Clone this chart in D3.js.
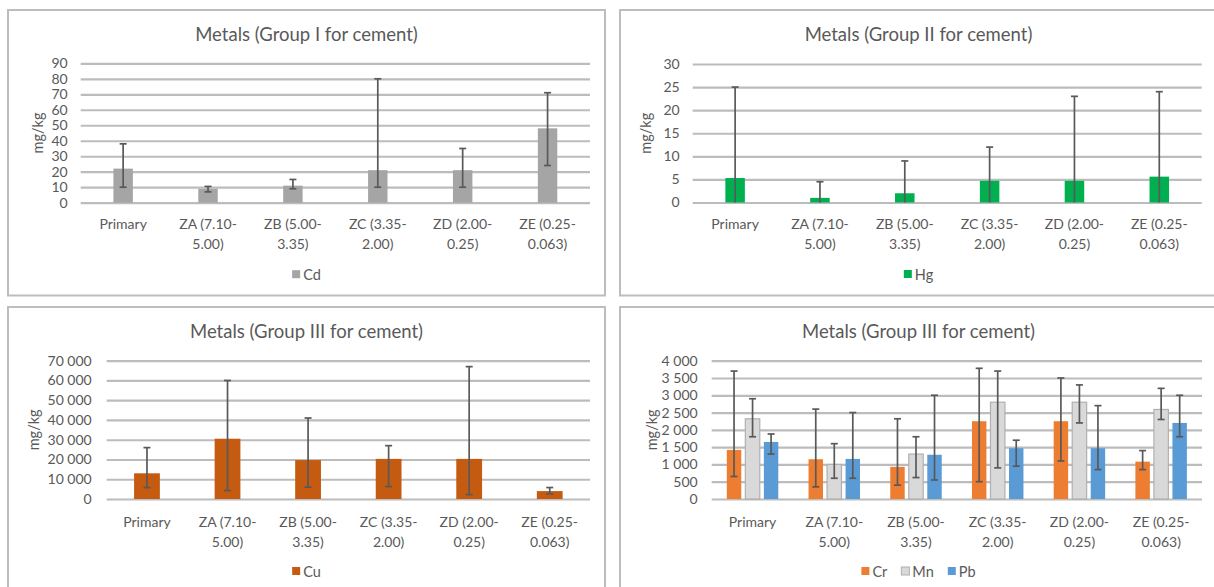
<!DOCTYPE html>
<html>
<head>
<meta charset="utf-8">
<script src="https://cdn.jsdelivr.net/npm/d3@7"></script>
<style>
  html, body { margin: 0; padding: 0; background: #fff; }
  svg { display: block; font-family: Lato, "Open Sans", sans-serif; }
</style>
</head>
<body>
<svg id="chart" width="1214" height="587"></svg>
<script>
// Size fractions (mm) shared by every panel
const categories = ["Primary", "ZA (7.10-5.00)", "ZB (5.00-3.35)", "ZC (3.35-2.00)", "ZD (2.00-0.25)", "ZE (0.25-0.063)"];

// Group I: cadmium (mean, lower and upper error limits)
const cdMean = [22, 9, 11, 21, 21, 48];
const cdLow  = [10, 7, 9, 10, 10, 24];
const cdHigh = [38, 10.5, 15, 80, 35, 71];
const cdTicks = [0, 10, 20, 30, 40, 50, 60, 70, 80, 90];

// Group II: mercury
const hgMean = [5.3, 1, 2, 4.7, 4.7, 5.6];
const hgLow  = [0, 0, 0, 0, 0, 0];
const hgHigh = [25, 4.5, 9, 12, 23, 24];
const hgTicks = [0, 5, 10, 15, 20, 25, 30];

// Group III: copper
const cuMean = [13000, 30500, 19700, 20300, 20300, 4000];
const cuLow  = [5800, 4300, 6000, 6300, 2200, 2600];
const cuHigh = [26000, 60000, 41000, 27000, 67000, 5800];
const cuTicks = [0, 10000, 20000, 30000, 40000, 50000, 60000, 70000];

// Group III: chromium, manganese, lead
const crMean = [1420, 1150, 930, 2250, 2250, 1080];
const crLow  = [650, 350, 400, 500, 1100, 850];
const crHigh = [3700, 2600, 2320, 3780, 3500, 1400];
const mnMean = [2320, 1000, 1300, 2800, 2800, 2590];
const mnLow  = [1800, 600, 620, 900, 2200, 2300];
const mnHigh = [2900, 1600, 1800, 3700, 3300, 3200];
const pbMean = [1650, 1160, 1280, 1470, 1470, 2200];
const pbLow  = [1300, 600, 550, 950, 850, 1800];
const pbHigh = [1880, 2500, 3000, 1700, 2700, 3000];
const g3Ticks = [0, 500, 1000, 1500, 2000, 2500, 3000, 3500, 4000];

const TEXT = "#595959";
const GRID = "#bcbcbc";
const ERR = "#595959";

const spaced = d3.formatLocale({ decimal: ".", thousands: "\u00a0", grouping: [3], currency: ["", ""] }).format(",");

const svg = d3.select("#chart");

function splitLabel(s) {
  const i = s.indexOf("-");
  return i < 0 ? [s] : [s.slice(0, i + 1), s.slice(i + 1)];
}

function drawPanel(cfg) {
  const g = svg.append("g");
  // frame
  g.append("rect")
    .attr("x", cfg.box[0]).attr("y", cfg.box[1])
    .attr("width", cfg.box[2]).attr("height", cfg.box[3])
    .attr("fill", "#fff").attr("stroke", "#bdbdbd").attr("stroke-width", 2);

  const cx = cfg.box[0] + cfg.box[2] / 2;
  g.append("text")
    .attr("x", cx).attr("y", cfg.box[1] + 23.5)
    .attr("text-anchor", "middle").attr("dominant-baseline", "central")
    .attr("fill", TEXT).style("font-size", "18.5px")
    .text(cfg.title);

  const [L, R, T, B] = cfg.plot;
  const x = d3.scaleBand().domain(categories).range([L, R]).padding(0);
  const y = d3.scaleLinear().domain([0, cfg.max]).range([B, T]);

  // gridlines + value labels
  const yAxis = g.append("g").attr("transform", `translate(${L},0)`)
    .call(d3.axisLeft(y).tickValues(cfg.ticks).tickFormat(cfg.format || spaced)
      .tickSize(-(R - L)).tickPadding(cfg.tickPad));
  yAxis.select(".domain").remove();
  yAxis.selectAll(".tick line").attr("stroke", GRID).attr("stroke-width", 2.2);
  yAxis.selectAll(".tick text").attr("fill", TEXT).style("font-size", "14px")
    .style("font-family", "Lato, 'Open Sans', sans-serif");

  // axis title
  g.append("text")
    .attr("transform", `translate(${cfg.yTitleX},${(T + B) / 2}) rotate(-90)`)
    .attr("text-anchor", "middle").attr("dominant-baseline", "central")
    .attr("fill", TEXT).style("font-size", "14.5px")
    .text("mg/kg");

  // category labels
  const cat = g.append("g");
  categories.forEach(c => {
    const lines = splitLabel(c);
    const t = cat.append("text")
      .attr("x", x(c) + x.bandwidth() / 2)
      .attr("y", B + cfg.labelOffset)
      .attr("text-anchor", "middle").attr("dominant-baseline", "central")
      .attr("fill", TEXT).style("font-size", "14px");
    lines.forEach((ln, i) => {
      t.append("tspan").attr("x", x(c) + x.bandwidth() / 2)
        .attr("dy", i === 0 ? 0 : 20).text(ln);
    });
  });

  // bars, grouped within each category
  const names = cfg.series.map(s => s.name);
  const groupW = x.bandwidth() * cfg.groupFrac;
  const inner = d3.scaleBand().domain(names).range([0, groupW])
    .paddingInner(cfg.series.length > 1 ? 0.22 : 0);

  cfg.series.forEach(s => {
    const sg = g.append("g");
    categories.forEach((c, i) => {
      const x0 = x(c) + (x.bandwidth() - groupW) / 2 + inner(s.name);
      const w = inner.bandwidth();
      sg.append("rect")
        .attr("x", x0).attr("y", y(s.mean[i]))
        .attr("width", w).attr("height", y(0) - y(s.mean[i]))
        .attr("fill", s.color)
        .attr("stroke", s.stroke || "none").attr("stroke-width", s.stroke ? 1.2 : 0);
      const xc = x0 + w / 2;
      sg.append("line")
        .attr("x1", xc).attr("x2", xc)
        .attr("y1", y(s.low[i])).attr("y2", y(s.high[i]))
        .attr("stroke", ERR).attr("stroke-width", 1.7);
      [s.high[i], s.low[i]].forEach(v => {
        if (v <= 0) return;
        sg.append("line")
          .attr("x1", xc - 3.5).attr("x2", xc + 3.5)
          .attr("y1", y(v)).attr("y2", y(v))
          .attr("stroke", ERR).attr("stroke-width", 1.7);
      });
    });
  });

  // legend, centred under the frame
  const leg = g.append("g");
  let lx = 0;
  cfg.series.forEach(s => {
    const item = leg.append("g").attr("transform", `translate(${lx},0)`);
    item.append("rect").attr("x", 0).attr("y", -4)
      .attr("width", 8).attr("height", 8).attr("fill", s.color)
      .attr("stroke", s.stroke || "none").attr("stroke-width", s.stroke ? 1 : 0);
    const t = item.append("text").attr("x", 11).attr("y", 0)
      .attr("dominant-baseline", "central").attr("fill", TEXT)
      .style("font-size", "14.5px").text(s.name);
    lx += 11 + t.node().getComputedTextLength() + 14;
  });
  const legW = lx - 14;
  leg.attr("transform", `translate(${cx - legW / 2},${B + cfg.legendOffset})`);
}

drawPanel({
  box: [8, 10, 597, 285.5], title: "Metals (Group I for cement)",
  plot: [80.7, 590, 63.3, 202.7], max: 90, ticks: cdTicks, tickPad: 13,
  yTitleX: 37, labelOffset: 20.5, legendOffset: 71.5, groupFrac: 0.229,
  series: [{ name: "Cd", color: "#a5a5a5", mean: cdMean, low: cdLow, high: cdHigh }]
});

drawPanel({
  box: [620, 10, 597, 285.5], title: "Metals (Group II for cement)",
  plot: [692.7, 1201.7, 64, 202.5], max: 30, ticks: hgTicks, tickPad: 13,
  yTitleX: 645, labelOffset: 20.5, legendOffset: 71.5, groupFrac: 0.23,
  series: [{ name: "Hg", color: "#00b050", mean: hgMean, low: hgLow, high: hgHigh }]
});

drawPanel({
  box: [8, 307, 597, 300], title: "Metals (Group III for cement)",
  plot: [106.7, 590, 360.7, 499], max: 70000, ticks: cuTicks, tickPad: 15,
  yTitleX: 33, labelOffset: 21.5, legendOffset: 72, groupFrac: 0.32,
  series: [{ name: "Cu", color: "#c55a11", mean: cuMean, low: cuLow, high: cuHigh }]
});

drawPanel({
  box: [620, 307, 597, 300], title: "Metals (Group III for cement)",
  plot: [711.7, 1202, 360.7, 499], max: 4000, ticks: g3Ticks, tickPad: 14,
  yTitleX: 651, labelOffset: 21.5, legendOffset: 72, groupFrac: 0.63,
  series: [
    { name: "Cr", color: "#ed7d31", mean: crMean, low: crLow, high: crHigh },
    { name: "Mn", color: "#d9d9d9", stroke: "#b0b0b0", mean: mnMean, low: mnLow, high: mnHigh },
    { name: "Pb", color: "#5b9bd5", mean: pbMean, low: pbLow, high: pbHigh }
  ]
});
</script>
</body>
</html>
